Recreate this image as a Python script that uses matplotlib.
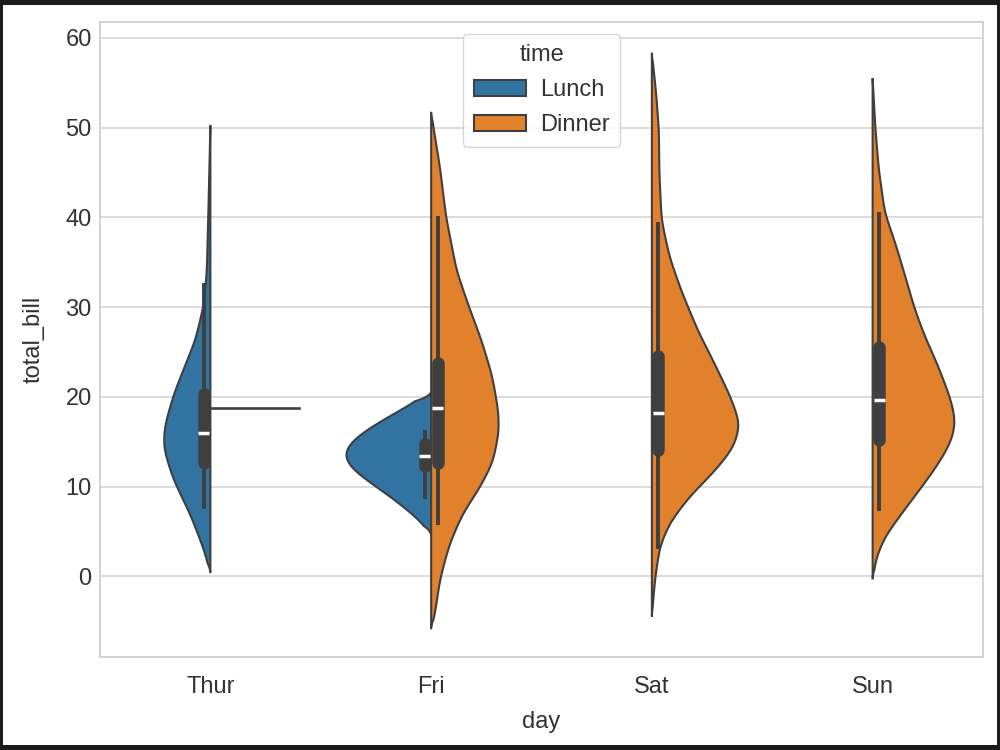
import numpy as np
import matplotlib
matplotlib.use("Agg")
from matplotlib import pyplot as plt
from matplotlib.patches import Patch, Rectangle

plt.rcParams['font.family'] = ['Liberation Sans', 'DejaVu Sans']

days = ["Thur", "Fri", "Sat", "Sun"]
times = ["Lunch", "Dinner"]
colors = {"Lunch": "#3274a1", "Dinner": "#e1812c"}
gray = "#3f3f3f"

# violin outlines: total_bill level, relative density (1 = widest)
thur_lunch_y = [0.4, 3.1, 6.95, 10.8, 14.3, 16.6, 20.1, 22.4, 26.3, 30.1, 34.0, 41.7, 50.2]
thur_lunch_d = [0.0, 0.077, 0.23, 0.42, 0.53, 0.52, 0.42, 0.33, 0.17, 0.077, 0.04, 0.02, 0.0]

fri_lunch_y = [4.6, 5.6, 7.0, 8.8, 10.7, 12.2, 13.5, 14.6, 16.3, 18.1, 19.6, 20.3, 20.5]
fri_lunch_d = [0.0, 0.06, 0.22, 0.45, 0.73, 0.93, 1.0, 0.95, 0.74, 0.42, 0.15, 0.04, 0.0]

fri_dinner_y = [-5.8, -4.4, -0.4, 3.3, 5.0, 7.0, 9.85, 12.7, 16.2, 18.5, 22.4, 26.3, 30.0, 34.0, 40.0, 45.6, 48.6, 51.7]
fri_dinner_d = [0.0, 0.04, 0.10, 0.20, 0.27, 0.36, 0.55, 0.70, 0.77, 0.76, 0.69, 0.57, 0.43, 0.29, 0.17, 0.10, 0.05, 0.0]

sat_dinner_y = [-4.5, -0.4, 3.3, 5.9, 8.8, 11.8, 14.4, 17.0, 20.0, 23.7, 27.4, 31.9, 35.6, 39.7, 44.9, 49.7, 54.2, 58.3]
sat_dinner_d = [0.0, 0.035, 0.09, 0.20, 0.42, 0.72, 0.93, 1.0, 0.89, 0.71, 0.52, 0.33, 0.20, 0.11, 0.085, 0.08, 0.045, 0.0]

sun_dinner_y = [-0.3, 2.2, 4.4, 7.0, 10.0, 12.6, 15.2, 17.4, 20.0, 23.7, 27.0, 30.0, 33.4, 36.7, 38.5, 40.4, 45.3, 50.1, 55.5]
sun_dinner_d = [0.0, 0.045, 0.14, 0.33, 0.56, 0.75, 0.90, 0.94, 0.875, 0.73, 0.58, 0.47, 0.37, 0.27, 0.21, 0.14, 0.07, 0.03, 0.0]

# box stats: lower whisker, q1, median, q3, upper whisker
thur_lunch_box = [7.51, 12.6, 16.0, 20.3, 32.7]
fri_lunch_box = [8.58, 12.3, 13.42, 14.7, 16.27]
fri_dinner_box = [5.75, 12.6, 18.78, 23.8, 40.17]
sat_dinner_box = [3.07, 14.1, 18.24, 24.6, 39.5]
sun_dinner_box = [7.25, 15.2, 19.63, 25.5, 40.55]

# Thur dinner has a single observation
thur_dinner_value = 18.78

violins = [
    (0, "Lunch", thur_lunch_y, thur_lunch_d, thur_lunch_box),
    (1, "Lunch", fri_lunch_y, fri_lunch_d, fri_lunch_box),
    (1, "Dinner", fri_dinner_y, fri_dinner_d, fri_dinner_box),
    (2, "Dinner", sat_dinner_y, sat_dinner_d, sat_dinner_box),
    (3, "Dinner", sun_dinner_y, sun_dinner_d, sun_dinner_box),
]


def outline(y, d, step=0.05, sigma=0.9):
    # linear through the read points, then a gaussian blur to round the kinks
    y = np.asarray(y, float)
    d = np.asarray(d, float)
    pad = 4 * sigma
    grid = np.arange(y[0] - pad, y[-1] + pad + step, step)
    vals = np.interp(grid, y, d, left=0, right=0)
    k = np.arange(-pad, pad + step, step)
    kern = np.exp(-0.5 * (k / sigma) ** 2)
    kern /= kern.sum()
    sm = np.convolve(vals, kern, mode="same")
    keep = (grid >= y[0]) & (grid <= y[-1])
    yy, dd = grid[keep], sm[keep]
    # taper the last bit so the tips close on the centre line
    dd = dd * np.clip((yy - y[0]) / 1.0, 0, 1) * np.clip((y[-1] - yy) / 1.0, 0, 1)
    return yy, dd


fig = plt.figure(figsize=(10, 7.5), dpi=100)
fig.patch.set_facecolor("#1c1c1c")
fig.patches.append(Rectangle((0.003, 0.0067), 0.994, 0.9866, transform=fig.transFigure,
                             facecolor="white", edgecolor="none", zorder=-10))
ax = fig.add_axes([0.100, 0.124, 0.883, 0.847])
ax.set_zorder(5)
ax.set_facecolor("white")

half = 0.4
for pos, t, ys, ds, box in violins:
    yy, dd = outline(ys, ds)
    side = -1 if t == "Lunch" else 1
    xs = pos + side * dd * half
    poly_x = np.concatenate([xs, [pos, pos]])
    poly_y = np.concatenate([yy, [yy[-1], yy[0]]])
    ax.fill(poly_x, poly_y, facecolor=colors[t], edgecolor=gray, linewidth=1.5, zorder=2)

    cx = pos + side * 0.03
    lo, q1, med, q3, hi = box
    ax.plot([cx, cx], [lo, hi], color=gray, linewidth=2.8, solid_capstyle="butt", zorder=3)
    ax.plot([cx, cx], [q1, q3], color=gray, linewidth=9.0, solid_capstyle="round", zorder=3)
    ax.plot([cx - 0.025, cx + 0.025], [med, med], color="white", linewidth=2.5,
            solid_capstyle="butt", zorder=4)

ax.plot([0, half], [thur_dinner_value, thur_dinner_value], color=gray, linewidth=1.9, zorder=2)

ax.set_xlim(-0.5, 3.5)
ax.set_ylim(-9.0, 61.8)
ax.set_xticks(range(len(days)))
ax.set_xticklabels(days)
ax.set_yticks(np.arange(0, 61, 10))
ax.tick_params(axis="both", length=0, labelsize=17, colors="#333333")
ax.tick_params(axis="x", pad=14)
ax.tick_params(axis="y", pad=6)
ax.set_xlabel("day", fontsize=17, color="#333333", labelpad=9)
ax.set_ylabel("total_bill", fontsize=17, color="#333333", labelpad=15)
ax.yaxis.grid(True, color="#d6d6d6", linewidth=1.2, zorder=0)
ax.set_axisbelow(True)
for s in ax.spines.values():
    s.set_color("#cccccc")
    s.set_linewidth(1.2)

handles = [Patch(facecolor=colors[t], edgecolor=gray, linewidth=1.5, label=t) for t in times]
leg = ax.legend(handles=handles, title="time", loc="upper center", fontsize=17,
                title_fontsize=17, frameon=True, handlelength=2.2, handleheight=0.7,
                borderpad=0.45, labelspacing=0.55, handletextpad=0.6)
leg.get_frame().set_edgecolor("#cccccc")
leg.get_title().set_color("#333333")
for txt in leg.get_texts():
    txt.set_color("#333333")

fig.savefig("out.png", dpi=100, facecolor=fig.get_facecolor())
